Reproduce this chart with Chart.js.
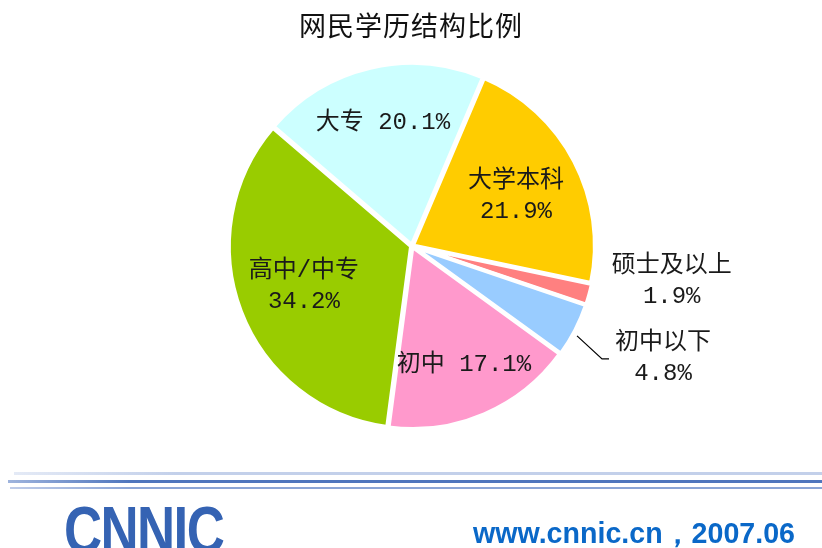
<!DOCTYPE html>
<html>
<head>
<meta charset="utf-8">
<script src="https://cdn.jsdelivr.net/npm/chart.js@4/dist/chart.umd.min.js"></script>
<style>
  html, body { margin:0; padding:0; background:#fff; }
  #wrap { position:relative; width:822px; height:548px; overflow:hidden; }
  #pie { position:absolute; left:0; top:0; }
  #title { position:absolute; left:0; width:822px; top:5px; text-align:center;
           font:27px "Noto Sans CJK SC", sans-serif; color:#111; letter-spacing:1px; }
  .rule { position:absolute; right:0; }
  #logo { position:absolute; left:64px; top:492px; font:bold 66px "Liberation Sans", sans-serif;
          color:#3563b3; transform:scaleX(0.8); transform-origin:left top; letter-spacing:-2px; }
  #site { position:absolute; left:473px; top:514px; font:bold 28.6px "Liberation Sans", Arial, sans-serif;
          color:#0a68c8; white-space:nowrap; }
</style>
</head>
<body>
<div id="wrap">
  <canvas id="pie" width="822" height="548"></canvas>
  <div id="title">网民学历结构比例</div>
  <div class="rule" style="left:14px;top:472px;height:3px;background:linear-gradient(90deg,#e4eaf6,#c3d0ea 20%,#c3d0ea);"></div>
  <div class="rule" style="left:8px;top:480px;height:3px;background:linear-gradient(90deg,#9fb4dd,#4f76bd 15%,#4f76bd);"></div>
  <div class="rule" style="left:10px;top:487px;height:2px;background:linear-gradient(90deg,#c0cde9,#8ba5d6 15%,#8ba5d6);"></div>
  <div id="logo">CNNIC</div>
  <div id="site">www.cnnic.cn，2007.06</div>
</div>
<script>
// data
const categories = ['大学本科', '硕士及以上', '初中以下', '初中', '高中/中专', '大专'];
const shares = [21.9, 1.9, 4.8, 17.1, 34.2, 20.1];
const colors = ['#FFCC00', '#FF8080', '#99CCFF', '#FF99CC', '#99CC00', '#CCFFFF'];
const labelText = [
  ['大学本科', '21.9%'],
  ['硕士及以上', '1.9%'],
  ['初中以下', '4.8%'],
  ['初中 17.1%'],
  ['高中/中专', '34.2%'],
  ['大专 20.1%']
];

// where each label sits: radius as fraction of pie radius, angle nudge in degrees
const labelPos = [
  {r:0.634, da:1.9},
  {r:1.44, da:-7.5},
  {r:1.51, da:-3.3},
  {r:0.714, da:-0.3},
  {r:0.633, da:0.7},
  {r:0.695, da:-0.1}
];

const pieLabels = {
  id: 'pieLabels',
  afterDatasetsDraw(chart){
    const ctx = chart.ctx;
    const arcs = chart.getDatasetMeta(0).data;
    ctx.save();
    ctx.font = '24px "Liberation Mono", "Noto Sans CJK SC", monospace';
    ctx.fillStyle = '#1a1a1a';
    ctx.textAlign = 'center';
    ctx.textBaseline = 'middle';
    arcs.forEach((arc, i) => {
      const p = arc.getProps(['x','y','startAngle','endAngle','outerRadius'], true);
      const a = (p.startAngle + p.endAngle) / 2 + labelPos[i].da * Math.PI / 180;
      const r = p.outerRadius * labelPos[i].r;
      const cx = p.x + Math.cos(a) * r;
      const cy = p.y + Math.sin(a) * r;
      const lines = labelText[i];
      const lh = 31;
      lines.forEach((t, k) => {
        ctx.fillText(t, cx, cy + (k - (lines.length - 1) / 2) * lh);
      });
      if (i === 2) {
        // leader line for the small slice
        ctx.strokeStyle = '#000';
        ctx.lineWidth = 1.2;
        ctx.beginPath();
        ctx.moveTo(cx - 86, cy - 22);
        ctx.lineTo(cx - 61, cy + 1);
        ctx.lineTo(cx - 54, cy + 1);
        ctx.stroke();
      }
    });
    ctx.restore();
  }
};

new Chart(document.getElementById('pie'), {
  type: 'pie',
  data: {
    labels: categories,
    datasets: [{
      data: shares,
      backgroundColor: colors,
      borderColor: '#ffffff',
      borderWidth: 4,
      offset: 4,
      hoverOffset: 0
    }]
  },
  options: {
    responsive: false,
    animation: false,
    rotation: 23,
    layout: { padding: { left: 226, right: 224, top: 60, bottom: 116 } },
    plugins: { legend: { display: false }, tooltip: { enabled: false } },
    events: []
  },
  plugins: [pieLabels]
});
</script>
</body>
</html>
